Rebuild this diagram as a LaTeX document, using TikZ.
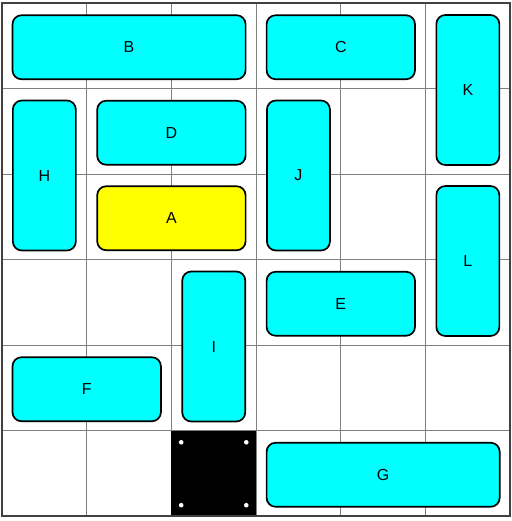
\documentclass[tikz,border=0pt]{standalone}
\usepackage{fontspec}
\setmainfont{Liberation Sans}
\definecolor{carfill}{RGB}{0,255,255}
\definecolor{targetfill}{RGB}{255,255,0}
\tikzset{
  cellline/.style={draw=black!50, line width=0.8pt},
  frame/.style   ={draw=black!75, line width=2pt},
  car/.style     ={draw, line width=1.7pt, rounded corners=9pt, fill=carfill,
                   inner sep=0pt, font=\fontsize{16}{16}\selectfont},
  hcar/.style    ={car, minimum width={#1*84.7pt-21pt}, minimum height=64pt},
  vcar/.style    ={car, minimum width=63pt, minimum height={#1*85.5pt-21pt}},
  target/.style  ={fill=targetfill},
  exitcell/.style={fill=black, inner sep=0pt, minimum width=84.7pt, minimum height=85.5pt},
  stud/.style    ={fill=white},
}

\begin{document}
\begin{tikzpicture}[x=84.7pt, y=-85.5pt]
  \useasboundingbox ([shift={(-2pt,3pt)}]0,0) rectangle ([shift={(1pt,-5pt)}]6,6);

  % board
  \foreach \i in {1,...,5} {
    \draw[cellline] (\i,0) -- (\i,6);
    \draw[cellline] (0,\i) -- (6,\i);
  }
  \node[exitcell] (exit) at (2.5,5.5) {};
  \foreach \c/\dx/\dy in {north west/10/-12, north east/-10/-12,
                          south west/10/11, south east/-10/11}
    \fill[stud] ([shift={(\dx pt,\dy pt)}]exit.\c) circle (2.3pt);
  \draw[frame] (0,0) rectangle (6,6);

  % cars
  \begin{scope}[yshift=-1.5pt]
  \node[hcar=3] (B) at (1.5,0.5) {B};
  \node[hcar=2] (C) at (4,0.5)   {C};
  \node[vcar=2] (K) at (5.5,1)   {K};
  \node[vcar=2] (H) at (0.5,2)   {H};
  \node[hcar=2] (D) at (2,1.5)   {D};
  \node[vcar=2] (J) at (3.5,2)   {J};
  \node[hcar=2, target] (A) at (2,2.5) {A};
  \node[vcar=2] (L) at (5.5,3)   {L};
  \node[vcar=2] (I) at (2.5,4)   {I};
  \node[hcar=2] (E) at (4,3.5)   {E};
  \node[hcar=2] (F) at (1,4.5)   {F};
  \node[hcar=3] (G) at (4.5,5.5) {G};
  \end{scope}
\end{tikzpicture}
\end{document}
